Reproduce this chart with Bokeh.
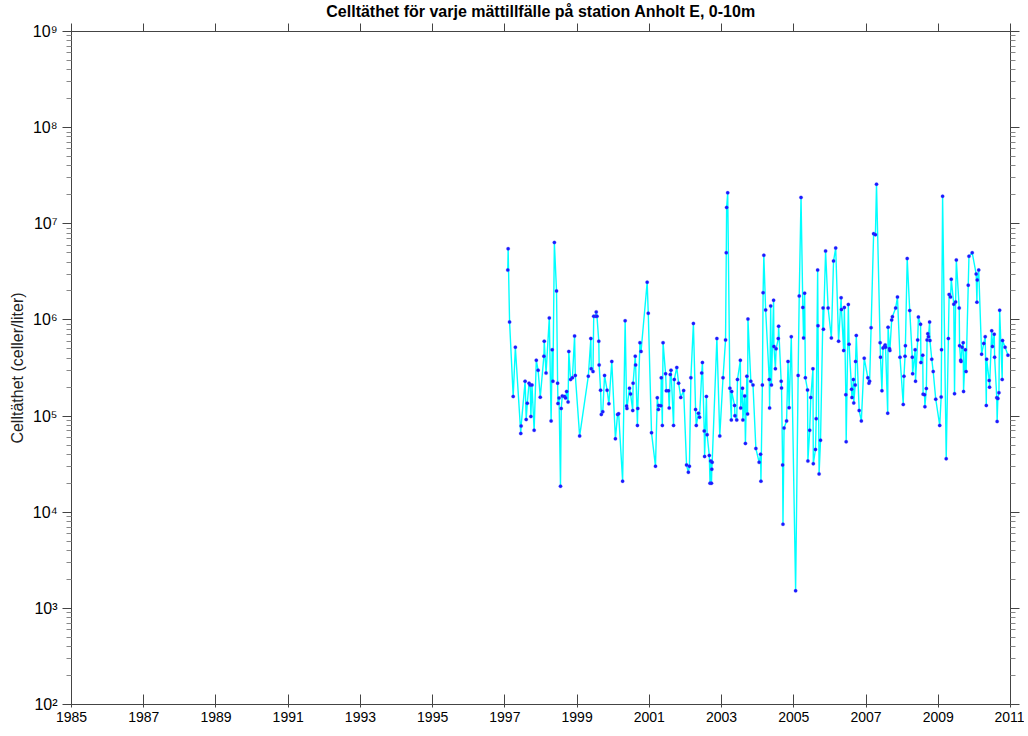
import numpy as np
from bokeh.plotting import figure
from bokeh.models import (FixedTicker, LinearAxis, LogAxis,
                          CustomJSTickFormatter, ColumnDataSource)
from bokeh.embed import file_html
from bokeh.resources import INLINE

title_text = "Celltäthet för varje mättillfälle på station Anholt E, 0-10m"
y_label = "Celltäthet (celler/liter)"
x_ticks = list(range(1985, 2012, 2))
y_ticks = [1e2, 1e3, 1e4, 1e5, 1e6, 1e7, 1e8, 1e9]

years = [
    1997.08, 1997.09, 1997.13, 1997.23, 1997.29, 1997.44, 1997.45, 1997.56, 1997.59, 1997.62,
    1997.67, 1997.70, 1997.72, 1997.75, 1997.81, 1997.87, 1997.92, 1997.98, 1998.08, 1998.09,
    1998.14, 1998.23, 1998.28, 1998.31, 1998.33, 1998.37, 1998.43, 1998.46, 1998.47, 1998.50,
    1998.54, 1998.56, 1998.59, 1998.65, 1998.68, 1998.71, 1998.75, 1998.77, 1998.82, 1998.87,
    1998.93, 1998.95, 1999.07, 1999.31, 1999.38, 1999.39, 1999.44, 1999.46, 1999.51, 1999.53,
    1999.55, 1999.60, 1999.61, 1999.65, 1999.67, 1999.71, 1999.76, 1999.83, 1999.88, 1999.96,
    2000.06, 2000.12, 2000.15, 2000.26, 2000.33, 2000.37, 2000.38, 2000.45, 2000.48, 2000.54,
    2000.55, 2000.61, 2000.62, 2000.67, 2000.68, 2000.74, 2000.77, 2000.94, 2000.97, 2001.06,
    2001.17, 2001.22, 2001.25, 2001.26, 2001.32, 2001.33, 2001.36, 2001.38, 2001.45, 2001.47,
    2001.53, 2001.55, 2001.58, 2001.60, 2001.67, 2001.69, 2001.76, 2001.81, 2001.87, 2001.95,
    2002.03, 2002.08, 2002.11, 2002.15, 2002.22, 2002.28, 2002.30, 2002.36, 2002.39, 2002.45,
    2002.47, 2002.52, 2002.53, 2002.58, 2002.60, 2002.66, 2002.68, 2002.70, 2002.72, 2002.73,
    2002.74, 2002.87, 2002.95, 2003.04, 2003.11, 2003.13, 2003.14, 2003.17, 2003.23, 2003.27,
    2003.28, 2003.36, 2003.37, 2003.42, 2003.44, 2003.52, 2003.53, 2003.58, 2003.59, 2003.64,
    2003.66, 2003.70, 2003.72, 2003.73, 2003.81, 2003.87, 2003.95, 2004.04, 2004.08, 2004.09,
    2004.13, 2004.15, 2004.17, 2004.22, 2004.32, 2004.33, 2004.36, 2004.38, 2004.44, 2004.45,
    2004.49, 2004.51, 2004.57, 2004.58, 2004.65, 2004.66, 2004.69, 2004.70, 2004.73, 2004.80,
    2004.84, 2004.87, 2004.93, 2005.05, 2005.12, 2005.15, 2005.20, 2005.25, 2005.27, 2005.30,
    2005.32, 2005.38, 2005.39, 2005.44, 2005.47, 2005.53, 2005.54, 2005.60, 2005.62, 2005.66,
    2005.67, 2005.70, 2005.74, 2005.81, 2005.82, 2005.88, 2005.95, 2006.04, 2006.10, 2006.16,
    2006.24, 2006.31, 2006.32, 2006.38, 2006.40, 2006.44, 2006.45, 2006.51, 2006.53, 2006.60,
    2006.61, 2006.65, 2006.66, 2006.70, 2006.71, 2006.73, 2006.81, 2006.87, 2006.95, 2007.05,
    2007.08, 2007.10, 2007.14, 2007.21, 2007.26, 2007.29, 2007.39, 2007.40, 2007.44, 2007.47,
    2007.51, 2007.53, 2007.54, 2007.60, 2007.61, 2007.65, 2007.66, 2007.71, 2007.73, 2007.82,
    2007.87, 2007.94, 2008.03, 2008.05, 2008.08, 2008.09, 2008.14, 2008.21, 2008.28, 2008.29,
    2008.36, 2008.37, 2008.43, 2008.45, 2008.51, 2008.52, 2008.57, 2008.58, 2008.62, 2008.63,
    2008.67, 2008.69, 2008.71, 2008.73, 2008.76, 2008.77, 2008.82, 2008.86, 2008.93, 2009.04,
    2009.08, 2009.09, 2009.12, 2009.22, 2009.28, 2009.30, 2009.34, 2009.36, 2009.43, 2009.45,
    2009.48, 2009.50, 2009.58, 2009.59, 2009.62, 2009.63, 2009.66, 2009.69, 2009.70, 2009.75,
    2009.77, 2009.83, 2009.85, 2009.94, 2010.05, 2010.07, 2010.08, 2010.12, 2010.20, 2010.26,
    2010.30, 2010.33, 2010.34, 2010.41, 2010.42, 2010.48, 2010.50, 2010.55, 2010.56, 2010.62,
    2010.63, 2010.65, 2010.68, 2010.70, 2010.77, 2010.78, 2010.85, 2010.93,
]

cells = [
    3.3e6, 5.5e6, 9.5e5, 1.6e5, 5.2e5, 6.6e4, 7.9e4, 2.3e5, 9.2e4, 1.36e5,
    2.2e5, 2.1e5, 9.9e4, 2.1e5, 7.1e4, 3.8e5, 3.0e5, 1.57e5, 4.2e5, 6.0e5,
    2.8e5, 1.05e6, 8.9e4, 4.9e5, 2.3e5, 6.4e6, 2.0e6, 2.2e5, 1.35e5, 1.54e5,
    1.86e4, 1.2e5, 1.62e5, 1.6e5, 1.54e5, 1.8e5, 1.4e5, 4.7e5, 2.4e5, 2.5e5,
    6.8e5, 2.65e5, 6.2e4, 2.6e5, 6.4e5, 3.1e5, 2.9e5, 1.09e6, 1.09e6, 1.21e6,
    1.09e6, 6.0e5, 3.4e5, 1.86e5, 1.04e5, 1.11e5, 2.65e5, 1.86e5, 1.34e5, 3.7e5,
    5.8e4, 1.04e5, 1.06e5, 2.1e4, 9.8e5, 1.27e5, 1.2e5, 1.95e5, 1.7e5, 1.14e5,
    2.2e5, 4.2e5, 3.4e5, 8.0e4, 1.2e5, 5.8e5, 4.7e5, 2.47e6, 1.17e6, 6.7e4,
    3.0e4, 1.55e5, 1.17e5, 1.29e5, 1.28e5, 2.5e5, 8.0e4, 5.8e5, 2.75e5, 1.83e5,
    1.83e5, 1.21e5, 2.7e5, 3.0e5, 8.0e4, 2.4e5, 3.2e5, 2.2e5, 1.56e5, 1.84e5,
    3.1e4, 2.6e4, 3.0e4, 2.5e5, 9.2e5, 1.17e5, 8.0e4, 1.07e5, 9.7e4, 2.8e5,
    3.6e5, 7.0e4, 3.8e4, 1.6e5, 6.4e4, 3.9e4, 2.0e4, 3.4e4, 2.0e4, 2.8e4,
    3.3e4, 6.4e5, 6.2e4, 2.5e5, 6.2e5, 5.0e6, 1.48e7, 2.1e7, 1.95e5, 9.1e4,
    1.8e5, 1.29e5, 1.01e5, 9.1e4, 2.4e5, 3.8e5, 1.21e5, 1.95e5, 9.1e4, 1.62e5,
    5.2e4, 2.6e5, 1.05e5, 1.02e6, 2.3e5, 2.1e5, 4.6e4, 3.3e4, 4.0e4, 2.1e4,
    2.1e5, 1.92e6, 4.7e6, 1.27e6, 2.4e5, 1.21e5, 1.4e6, 2.1e5, 1.6e6, 5.3e5,
    3.1e5, 5.0e5, 6.4e5, 8.6e5, 2.3e5, 1.96e5, 3.1e4, 7.5e3, 7.5e4, 8.9e4,
    3.7e5, 1.22e5, 6.7e5, 1.52e3, 2.65e5, 1.77e6, 1.88e7, 1.35e6, 6.5e5, 1.9e6,
    2.5e5, 1.87e5, 3.4e4, 7.1e4, 1.56e5, 3.1e5, 3.2e4, 4.5e4, 9.4e4, 3.3e6,
    8.7e5, 2.5e4, 5.6e4, 1.33e6, 8.0e5, 5.2e6, 1.33e6, 6.5e5, 4.1e6, 5.6e6,
    6.0e5, 1.7e6, 1.28e6, 4.8e5, 1.35e6, 1.67e5, 5.4e4, 1.45e6, 5.6e5, 1.9e5,
    1.56e5, 2.4e5, 1.37e5, 2.1e5, 3.7e5, 6.9e5, 1.14e5, 8.9e4, 4.0e5, 2.5e5,
    2.2e5, 2.3e5, 8.3e5, 7.9e6, 7.7e6, 2.58e7, 5.8e5, 4.1e5, 1.83e5, 5.1e5,
    5.3e5, 5.5e5, 5.2e5, 1.07e5, 8.4e5, 5.0e5, 4.8e5, 1.0e6, 1.08e6, 1.33e6,
    1.73e6, 4.1e5, 1.32e5, 2.6e5, 4.2e5, 5.4e5, 4.35e6, 1.25e6, 4.1e5, 2.75e5,
    4.9e5, 2.3e5, 6.2e5, 1.07e6, 9.0e5, 3.6e5, 4.3e5, 1.69e5, 1.67e5, 1.25e5,
    1.93e5, 6.2e5, 7.2e5, 6.7e5, 9.5e5, 6.1e5, 3.9e5, 2.9e5, 1.5e5, 8.0e4,
    1.58e5, 4.9e5, 1.93e7, 3.6e4, 6.4e5, 1.84e6, 1.73e6, 2.65e6, 1.46e6, 1.71e5,
    1.54e6, 4.2e6, 1.33e6, 5.4e5, 3.8e5, 3.7e5, 5.2e5, 5.8e5, 1.8e5, 4.9e5,
    2.9e5, 2.3e6, 4.6e6, 5.0e6, 3.0e6, 1.53e6, 2.6e6, 3.3e6, 4.4e5, 5.7e5,
    6.7e5, 1.29e5, 3.9e5, 2.35e5, 2.0e5, 7.7e5, 5.3e5, 7.1e5, 4.1e5, 1.55e5,
    8.8e4, 1.52e5, 1.75e5, 1.26e6, 2.4e5, 6.1e5, 5.2e5, 4.3e5,
]

order = np.argsort(np.array(years), kind="stable")
src = ColumnDataSource(dict(x=np.array(years)[order], y=np.array(cells)[order]))

p = figure(width=1024, height=730, x_range=(1985, 2011), y_range=(1e2, 1e9),
           y_axis_type="log", output_backend="svg", toolbar_location=None,
           min_border_left=71, min_border_right=14, min_border_top=0,
           min_border_bottom=26, title=title_text)
p.background_fill_color = "white"
p.border_fill_color = "white"
p.grid.visible = False
p.outline_line_color = "#444444"

font = "Liberation Sans"
p.title.align = "center"
p.title.text_font = font
p.title.text_font_size = "16px"
p.title.text_font_style = "bold"
p.title.text_color = "black"
p.title.standoff = 0
p.title.offset = 0

axis_color = "#444444"
sup = CustomJSTickFormatter(code="""
const s = {'0':'\u2070','1':'\u00b9','2':'\u00b2','3':'\u00b3','4':'\u2074','5':'\u2075','6':'\u2076','7':'\u2077','8':'\u2078','9':'\u2079'};
const e = Math.round(Math.log10(tick)).toString();
return '10' + e.split('').map(c => s[c]).join('');
""")
blank = CustomJSTickFormatter(code="return ' ';")

minor = []
for k in range(2, 9):
    for m in range(2, 10):
        minor.append(m * 10.0 ** k)

# bottom axis
xa = p.xaxis[0]
xa.ticker = FixedTicker(ticks=x_ticks, minor_ticks=[])
xa.major_tick_in = 10
xa.major_tick_out = 3
xa.minor_tick_in = 0
xa.minor_tick_out = 0
xa.major_label_standoff = 4
xa.major_label_text_font = font
xa.major_label_text_font_size = "14px"
xa.major_label_text_color = "black"
xa.axis_line_color = axis_color
xa.major_tick_line_color = axis_color

# left axis
ya = p.yaxis[0]
ya.ticker = FixedTicker(ticks=y_ticks, minor_ticks=minor)
ya.formatter = sup
ya.major_tick_in = 0
ya.major_tick_out = 9
ya.minor_tick_in = 0
ya.minor_tick_out = 5
ya.major_label_standoff = 5
ya.major_label_text_font = font
ya.major_label_text_font_size = "16px"
ya.major_label_text_color = "black"
ya.axis_label = y_label
ya.axis_label_text_font = font
ya.axis_label_text_font_size = "16px"
ya.axis_label_text_font_style = "normal"
ya.axis_label_text_color = "#222222"
ya.axis_label_standoff = 4
ya.axis_line_color = axis_color
ya.major_tick_line_color = axis_color
ya.minor_tick_line_color = "#888888"

# top axis (ticks only)
ta = LinearAxis(ticker=FixedTicker(ticks=x_ticks, minor_ticks=[]), formatter=blank,
                major_tick_in=0, major_tick_out=8, minor_tick_in=0, minor_tick_out=0,
                major_label_text_font_size="1px", major_label_standoff=0,
                axis_line_color=axis_color, major_tick_line_color=axis_color)
p.add_layout(ta, "above")

# right axis (ticks only)
ra = LogAxis(ticker=FixedTicker(ticks=y_ticks, minor_ticks=minor), formatter=blank,
             major_tick_in=0, major_tick_out=9, minor_tick_in=0, minor_tick_out=5,
             major_label_text_font_size="1px", major_label_standoff=0,
             axis_line_color=axis_color, major_tick_line_color=axis_color,
             minor_tick_line_color="#888888")
p.add_layout(ra, "right")

p.line("x", "y", source=src, line_color="#00FFFF", line_width=1.4)
p.scatter("x", "y", source=src, size=3.5, fill_color="#1A1AFF", line_color="#5050FF",
          line_alpha=0.5, line_width=0.5)

open("out.html", "w").write(file_html(p, INLINE))
